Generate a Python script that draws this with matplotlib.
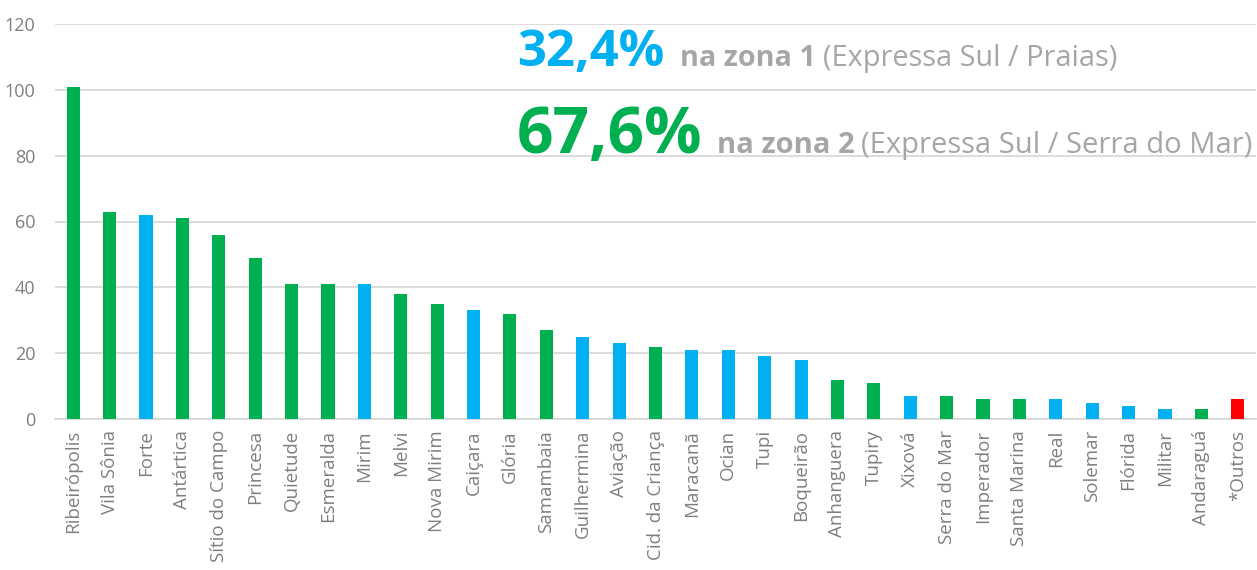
import matplotlib
matplotlib.use('Agg')
import matplotlib.pyplot as plt

# data
bairros = ["Ribeirópolis", "Vila Sônia", "Forte", "Antártica", "Sítio do Campo",
           "Princesa", "Quietude", "Esmeralda", "Mirim", "Melvi", "Nova Mirim",
           "Caiçara", "Glória", "Samambaia", "Guilhermina", "Aviação",
           "Cid. da Criança", "Maracanã", "Ocian", "Tupi", "Boqueirão",
           "Anhanguera", "Tupiry", "Xixová", "Serra do Mar", "Imperador",
           "Santa Marina", "Real", "Solemar", "Flórida", "Militar", "Andaraguá",
           "*Outros"]
valores = [101, 63, 62, 61, 56, 49, 41, 41, 41, 38, 35, 33, 32, 27, 25, 23,
           22, 21, 21, 19, 18, 12, 11, 7, 7, 6, 6, 6, 5, 4, 3, 3, 6]
# 1 = zona 1 (Praias), 2 = zona 2 (Serra do Mar), 0 = outros
zonas = [2, 2, 1, 2, 2, 2, 2, 2, 1, 2, 2, 1, 2, 2, 1, 1,
         2, 1, 1, 1, 1, 2, 2, 1, 2, 2, 2, 1, 1, 1, 1, 2, 0]

VERDE = '#00b050'
AZUL = '#00b0f0'
VERMELHO = '#ff0000'
CINZA = '#a6a6a6'
cores = {1: AZUL, 2: VERDE, 0: VERMELHO}

fig = plt.figure(figsize=(12.57, 5.70), dpi=100)
ax = fig.add_axes([55 / 1257, 151 / 570, 1201 / 1257, 395 / 570])

x = range(len(bairros))
ax.bar(x, valores, width=0.36, color=[cores[z] for z in zonas], zorder=3)

ax.set_xlim(-0.5, len(bairros) - 0.5)
ax.set_ylim(0, 120)
ax.set_yticks(range(0, 121, 20))
ax.set_xticks(list(x))
ax.set_xticklabels(bairros, rotation=90, fontsize=13.5, color='#7f7f7f',
                   family='Open Sans')
ax.tick_params(axis='y', labelsize=13, labelcolor='#7f7f7f', length=0, pad=14)
ax.tick_params(axis='x', length=0, pad=8)
for lbl in ax.get_yticklabels():
    lbl.set_family('Open Sans')

ax.grid(axis='y', color='#d9d9d9', linewidth=1.3, zorder=0)
for s in ['top', 'right', 'left']:
    ax.spines[s].set_visible(False)
ax.spines['bottom'].set_color('#d9d9d9')
ax.spines['bottom'].set_linewidth(1.3)

# annotation text, pieces chained left to right
fig.canvas.draw()
renderer = fig.canvas.get_renderer()


def linha(xpix, ypix, partes):
    xcur = xpix
    for texto, tam, cor, peso, gap in partes:
        t = fig.text(xcur / 1257, 1 - ypix / 570, texto, fontsize=tam, color=cor,
                     fontweight=peso, family='Open Sans', va='baseline')
        bb = t.get_window_extent(renderer)
        xcur = bb.x1 + gap


linha(517, 66, [("32,4%", 36.5, AZUL, 'bold', 16),
                ("na zona 1", 20.8, CINZA, 'bold', 7),
                ("(Expressa Sul / Praias)", 20.8, CINZA, 'normal', 0)])
linha(517, 153, [("67,6%", 46, VERDE, 'bold', 14),
                 ("na zona 2", 21, CINZA, 'bold', 7),
                 ("(Expressa Sul / Serra do Mar)", 21, CINZA, 'normal', 0)])

fig.savefig('out.png', dpi=100)
plt.close(fig)
